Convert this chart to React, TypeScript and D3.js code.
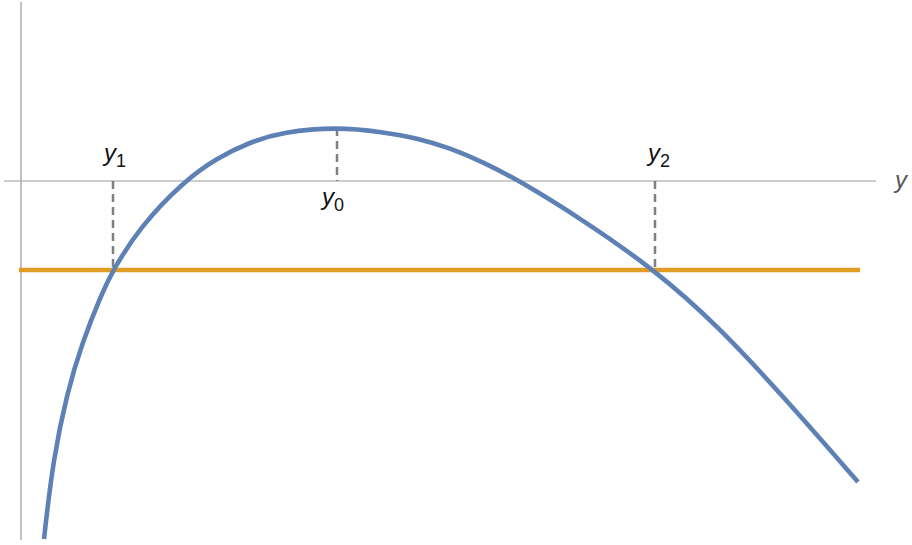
import React from 'react';
import * as d3 from 'd3';

// curve (x along the y-axis label, value up)
const curveX = [0.23, 0.32, 0.46, 0.61, 0.81, 0.92, 1.19, 1.62, 1.96, 2.29, 2.62, 3.16, 3.62, 3.96, 4.29, 4.62, 4.99, 5.62, 6.34, 6.96, 7.62, 8.37];
const curveY = [-3.58, -2.79, -2.12, -1.62, -1.12, -0.89, -0.46, -0.01, 0.23, 0.39, 0.49, 0.54, 0.49, 0.43, 0.33, 0.19, 0, -0.39, -0.89, -1.44, -2.15, -3.01];

// horizontal level line
const levelValue = -0.89;
const levelRange = [-0.02, 8.39];

// marked points: name, subscript, x, top of dash, bottom of dash
const markNames = ['y', 'y', 'y'];
const markSubs = ['1', '0', '2'];
const markX = [0.92, 3.16, 6.34];
const markFrom = [0, 0.53, 0];
const markTo = [-0.89, 0, -0.89];

const axisXRange = [-0.17, 8.55];
const axisYRange = [-3.59, 1.79];
const axisLabel = 'y';

const W = 912, H = 545;

export default function App() {
  const x = d3.scaleLinear().domain([0, 8.91]).range([21, 912]);
  const y = d3.scaleLinear().domain([-3.64, 1.81]).range([545, 0]);

  const pts: [number, number][] = curveX.map((v, i) => [v, curveY[i]]);
  const line = d3.line<[number, number]>()
    .x(d => x(d[0]))
    .y(d => y(d[1]))
    .curve(d3.curveBasis);

  // label offsets relative to the dash
  const labelDx = [-9, -15, -7];
  const labelY = [y(0) - 20, y(0) + 24, y(0) - 20];

  return (
    <svg width={W} height={H} style={{ position: 'absolute', left: 0, top: 0, background: '#fff' }}
      fontFamily="'Liberation Sans', Arial, sans-serif">
      <defs>
        <clipPath id="plot">
          <rect x={0} y={y(axisYRange[1])} width={W} height={y(axisYRange[0]) - y(axisYRange[1])} />
        </clipPath>
      </defs>
      {/* axes */}
      <line x1={x(axisXRange[0])} x2={x(axisXRange[1])} y1={y(0)} y2={y(0)} stroke="#bdbdbd" strokeWidth={1.3} />
      <line x1={x(0)} x2={x(0)} y1={y(axisYRange[1])} y2={y(axisYRange[0])} stroke="#999" strokeWidth={1.2} />
      <text x={x(axisXRange[1]) + 19} y={y(0) + 7} fontSize={24} fontStyle="italic" fill="#555">{axisLabel}</text>

      {/* dashed drops */}
      {markX.map((mx, i) => (
        <line key={'d' + i} x1={x(mx)} x2={x(mx)} y1={y(markFrom[i])} y2={y(markTo[i])}
          stroke="#7f7f7f" strokeWidth={2.5} strokeDasharray="8,5" />
      ))}

      {/* level line */}
      <line x1={x(levelRange[0])} x2={x(levelRange[1])} y1={y(levelValue)} y2={y(levelValue)}
        stroke="#e19c24" strokeWidth={4.3} />

      {/* curve */}
      <path d={line(pts) || ''} fill="none" stroke="#5e81b5" strokeWidth={4.6} clipPath="url(#plot)" />

      {/* labels */}
      {markX.map((mx, i) => (
        <text key={'l' + i} x={x(mx) + labelDx[i]} y={labelY[i]} fontSize={24} fill="#111">
          <tspan fontStyle="italic">{markNames[i]}</tspan>
          <tspan dy={6} fontSize={18}>{markSubs[i]}</tspan>
        </text>
      ))}
    </svg>
  );
}
